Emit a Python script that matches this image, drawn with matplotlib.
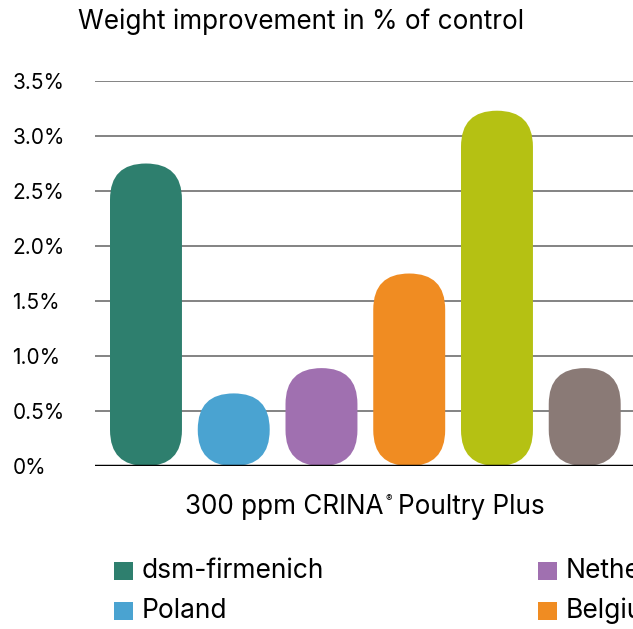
import matplotlib
matplotlib.use("Agg")
import matplotlib.pyplot as plt
from matplotlib.patches import FancyBboxPatch, Rectangle

plt.rcParams['font.family'] = ['Inter', 'DejaVu Sans']

# data
groups = ['dsm-firmenich', 'Poland', 'Netherlands', 'Belgium', 'Group 5', 'Group 6']
values = [2.75, 0.66, 0.89, 1.75, 3.23, 0.89]
colors = ['#2e7f6e', '#4aa3d1', '#a070b0', '#f08c22', '#b5c113', '#8a7a76']
yticks = [0, 0.5, 1.0, 1.5, 2.0, 2.5, 3.0, 3.5]
ytick_labels = ['0%', '0.5%', '1.0%', '1.5%', '2.0%', '2.5%', '3.0%', '3.5%']
legend_groups = ['dsm-firmenich', 'Poland', 'Netherlands', 'Belgium']

W, H = 633, 629
fig = plt.figure(figsize=(W / 100, H / 100), dpi=100)
# axes run off the right edge like in the reference
ax = fig.add_axes([95 / W, 163 / H, 545 / W, 385 / H])
ax.set_xlim(-0.581, 5.63)
ax.set_ylim(0, 3.5)

for s in ax.spines.values():
    s.set_visible(False)
ax.set_xticks([])
ax.set_yticks(yticks)
ax.set_yticklabels(ytick_labels, fontsize=15)
ax.tick_params(axis='y', length=0, pad=59.5)
for lbl in ax.get_yticklabels():
    lbl.set_horizontalalignment('left')

for y in yticks[1:]:
    ax.axhline(y, color='#6e6e6e', lw=1.2, zorder=1)
ax.axhline(0, color='black', lw=2.5, zorder=3)

# pill shaped bars: need pixel size of data units for the rounding
px_x = ax.transData.transform((1, 0))[0] - ax.transData.transform((0, 0))[0]
px_y = ax.transData.transform((0, 1))[1] - ax.transData.transform((0, 0))[1]
bw = 0.82
for i, (v, c) in enumerate(zip(values, colors)):
    p = FancyBboxPatch((i - bw / 2, 0), bw, v,
                       boxstyle=f"round,pad=0,rounding_size={bw / 2}",
                       mutation_aspect=px_x / px_y,
                       fc=c, ec='none', zorder=2)
    ax.add_patch(p)

fig.text(78 / W, 1 - 22 / H, 'Weight improvement in % of control',
         fontsize=18.8, va='center', ha='left')

# x label with a small registered sign
renderer = fig.canvas.get_renderer()
t1 = fig.text(185 / W, 1 - 507 / H, '300 ppm CRINA', fontsize=18.8, va='center', ha='left')
x_end = t1.get_window_extent(renderer).x1
t2 = fig.text((x_end + 2) / W, 1 - 499 / H, '®', fontsize=7, va='center', ha='left')
x_end = t2.get_window_extent(renderer).x1
fig.text((x_end + 6) / W, 1 - 507 / H, 'Poultry Plus', fontsize=18.8, va='center', ha='left')

# legend, two visible columns, the rest is cut off by the canvas
leg_x = [114, 114, 538, 538]
leg_y = [571, 611, 571, 611]
for name, c, lx, ly in zip(legend_groups, colors[:4], leg_x, leg_y):
    fig.add_artist(Rectangle((lx / W, 1 - (ly + 9) / H), 19 / W, 18 / H,
                             transform=fig.transFigure, fc=c, ec='none'))
    fig.text((lx + 28) / W, 1 - ly / H, name, fontsize=19, va='center', ha='left')

fig.savefig('out.png', dpi=100)
